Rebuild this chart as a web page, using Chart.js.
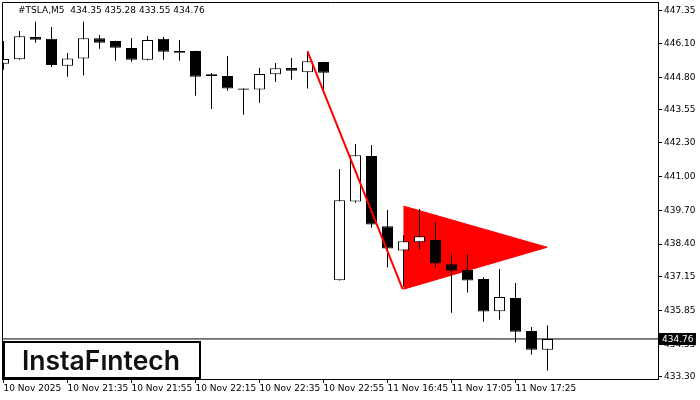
<!DOCTYPE html>
<html>
<head>
<meta charset="utf-8">
<script src="https://cdn.jsdelivr.net/npm/chart.js@4.4.1/dist/chart.umd.min.js"></script>
<style>
html, body { margin: 0; padding: 0; background: #fff; }
</style>
</head>
<body>
<canvas id="chart" width="700" height="400"></canvas>
<script>
// M5 candles, index 0..34
const opens  = [445.32,445.50,446.35,446.28,445.25,445.53,446.30,446.20,445.93,445.48,446.28,445.81,445.81,444.92,444.85,444.37,444.34,444.92,445.16,445.00,445.39,437.01,440.04,441.78,439.09,438.16,438.47,438.56,437.63,437.41,437.06,435.82,436.33,435.07,434.35];
const highs  = [446.20,446.58,446.94,446.74,445.74,446.94,446.43,446.21,446.31,446.39,446.35,446.24,445.82,444.97,445.62,444.38,445.16,445.35,445.55,445.80,445.40,441.28,442.24,442.21,439.71,438.74,439.75,439.25,438.05,438.02,437.13,437.45,436.91,435.22,435.28];
const lows   = [445.09,445.48,446.13,445.20,444.83,444.87,445.90,445.44,445.40,445.46,445.48,445.44,444.10,443.59,444.29,443.37,443.83,444.62,444.71,444.37,444.32,437.00,439.99,439.03,437.50,436.77,438.19,437.50,435.77,436.54,435.42,435.50,434.62,434.16,433.55];
const closes = [445.51,446.38,446.25,445.28,445.53,446.30,446.13,445.94,445.48,446.24,445.79,445.75,444.83,444.85,444.37,444.33,444.93,445.15,445.06,445.42,444.98,440.08,441.81,439.15,438.23,438.51,438.70,437.66,437.38,437.00,435.81,436.37,435.04,434.35,434.76];

const xLabels = ['10 Nov 2025','10 Nov 21:35','10 Nov 21:55','10 Nov 22:15','10 Nov 22:35','10 Nov 22:55','11 Nov 16:45','11 Nov 17:05','11 Nov 17:25'];
const xLabelIdx = [0,4,8,12,16,20,24,28,32];
const yTicks = [447.35,446.10,444.80,443.55,442.30,441.00,439.70,438.40,437.15,435.85,434.55,433.30];

// bearish pennant: pole and triangle (index, price)
const poleX = [19, 24.95];
const poleY = [445.80, 436.67];
const pennantX = [25, 33.98, 25];
const pennantY = [439.86, 438.28, 436.67];

const title = '#TSLA,M5  434.35 435.28 433.55 434.76';
const lastPrice = closes[closes.length - 1];

const wicks = lows.map((l, i) => ({ x: i, y: [l, highs[i]] }));
const bodies = opens.map((o, i) => ({ x: i, y: [o, closes[i]] }));
const bodyColors = opens.map((o, i) => closes[i] > o ? '#ffffff' : '#000000');

const font9 = { family: 'DejaVu Sans', size: 9 };

const framePlugin = {
  id: 'frame',
  afterDraw(chart) {
    const { ctx, chartArea: a, scales } = chart;
    ctx.save();
    // frame
    ctx.strokeStyle = '#000';
    ctx.lineWidth = 1;
    ctx.beginPath();
    ctx.moveTo(Math.round(a.left) + 0.5, Math.round(a.bottom));
    ctx.lineTo(Math.round(a.left) + 0.5, Math.round(a.top) + 0.5);
    ctx.lineTo(Math.round(a.right), Math.round(a.top) + 0.5);
    ctx.stroke();

    // title
    ctx.fillStyle = '#000';
    ctx.font = '9px "DejaVu Sans"';
    ctx.textBaseline = 'middle';
    ctx.textAlign = 'left';
    ctx.fillText(title, 18, 11);

    // last price label
    const y = scales.y.getPixelForValue(lastPrice);
    ctx.fillStyle = '#000';
    ctx.fillRect(a.right + 1, Math.round(y) - 6, 37, 12);
    ctx.fillStyle = '#fff';
    ctx.fillText(lastPrice.toFixed(2), a.right + 4, Math.round(y) + 0.5);

    // logo
    ctx.fillStyle = '#fff';
    ctx.fillRect(3, 341, 198, 37);
    ctx.strokeStyle = '#000';
    ctx.lineWidth = 2;
    ctx.strokeRect(4, 342, 196, 36);
    ctx.font = '600 28px Inter';
    const w = ctx.measureText('InstaF\u0131ntech').width;
    const size = 28 * 158 / w;
    ctx.font = '600 ' + size.toFixed(1) + 'px Inter';
    ctx.fillStyle = '#111';
    ctx.textBaseline = 'alphabetic';
    ctx.fillText('InstaF\u0131ntech', 22, 370);
    ctx.restore();
  }
};

new Chart(document.getElementById('chart'), {
  type: 'bar',
  data: {
    datasets: [
      {
        type: 'line',
        data: poleX.map((x, i) => ({ x: x, y: poleY[i] })),
        borderColor: '#ff0000',
        borderWidth: 2,
        pointRadius: 0,
        fill: false,
        order: -1
      },
      {
        data: bodies,
        backgroundColor: bodyColors,
        borderColor: '#000',
        borderWidth: 1,
        borderSkipped: false,
        grouped: false,
        maxBarThickness: 11,
        inflateAmount: 0,
        order: 0
      },
      {
        data: wicks,
        backgroundColor: '#000',
        borderWidth: 0,
        grouped: false,
        maxBarThickness: 1,
        inflateAmount: 0,
        order: 1
      },
      {
        type: 'line',
        data: pennantX.map((x, i) => ({ x: x, y: pennantY[i] })),
        borderColor: '#ff0000',
        backgroundColor: '#ff0000',
        borderWidth: 1,
        pointRadius: 0,
        fill: 'shape',
        order: 2
      },
      {
        type: 'line',
        data: [{ x: -1, y: lastPrice }, { x: 42, y: lastPrice }],
        borderColor: '#000',
        borderWidth: 1,
        pointRadius: 0,
        fill: false,
        order: 3
      }
    ]
  },
  options: {
    responsive: false,
    animation: false,
    layout: { padding: { left: 2, top: 2, right: 0, bottom: 0 } },
    plugins: { legend: { display: false }, tooltip: { enabled: false } },
    scales: {
      x: {
        type: 'linear',
        offset: false,
        bounds: 'data',
        min: -1.5 / 16,
        max: -1.5 / 16 + 656 / 16,
        grid: { offset: false, drawOnChartArea: false, drawTicks: true, tickLength: 4, color: '#000' },
        border: { display: true, color: '#000' },
        ticks: {
          autoSkip: false,
          maxRotation: 0,
          align: 'start',
          padding: 0,
          color: '#000',
          font: font9,
          callback: (v) => xLabels[xLabelIdx.indexOf(v)] || ''
        },
        afterBuildTicks: (s) => { s.ticks = xLabelIdx.map(v => ({ value: v })); },
        afterFit: (s) => { s.height = 21; s.paddingLeft = 0; s.paddingRight = 0; }
      },
      y: {
        position: 'right',
        min: 433.223,
        max: 447.695,
        grid: { drawOnChartArea: false, drawTicks: true, tickLength: 4, color: '#000' },
        border: { display: true, color: '#000' },
        ticks: {
          padding: 2,
          color: '#000',
          font: font9,
          callback: (v) => v.toFixed(2)
        },
        afterBuildTicks: (s) => { s.ticks = yTicks.map(v => ({ value: v })); },
        afterFit: (s) => { s.width = 42; s.paddingTop = 0; s.paddingBottom = 0; }
      }
    }
  },
  plugins: [framePlugin]
});
</script>
</body>
</html>
